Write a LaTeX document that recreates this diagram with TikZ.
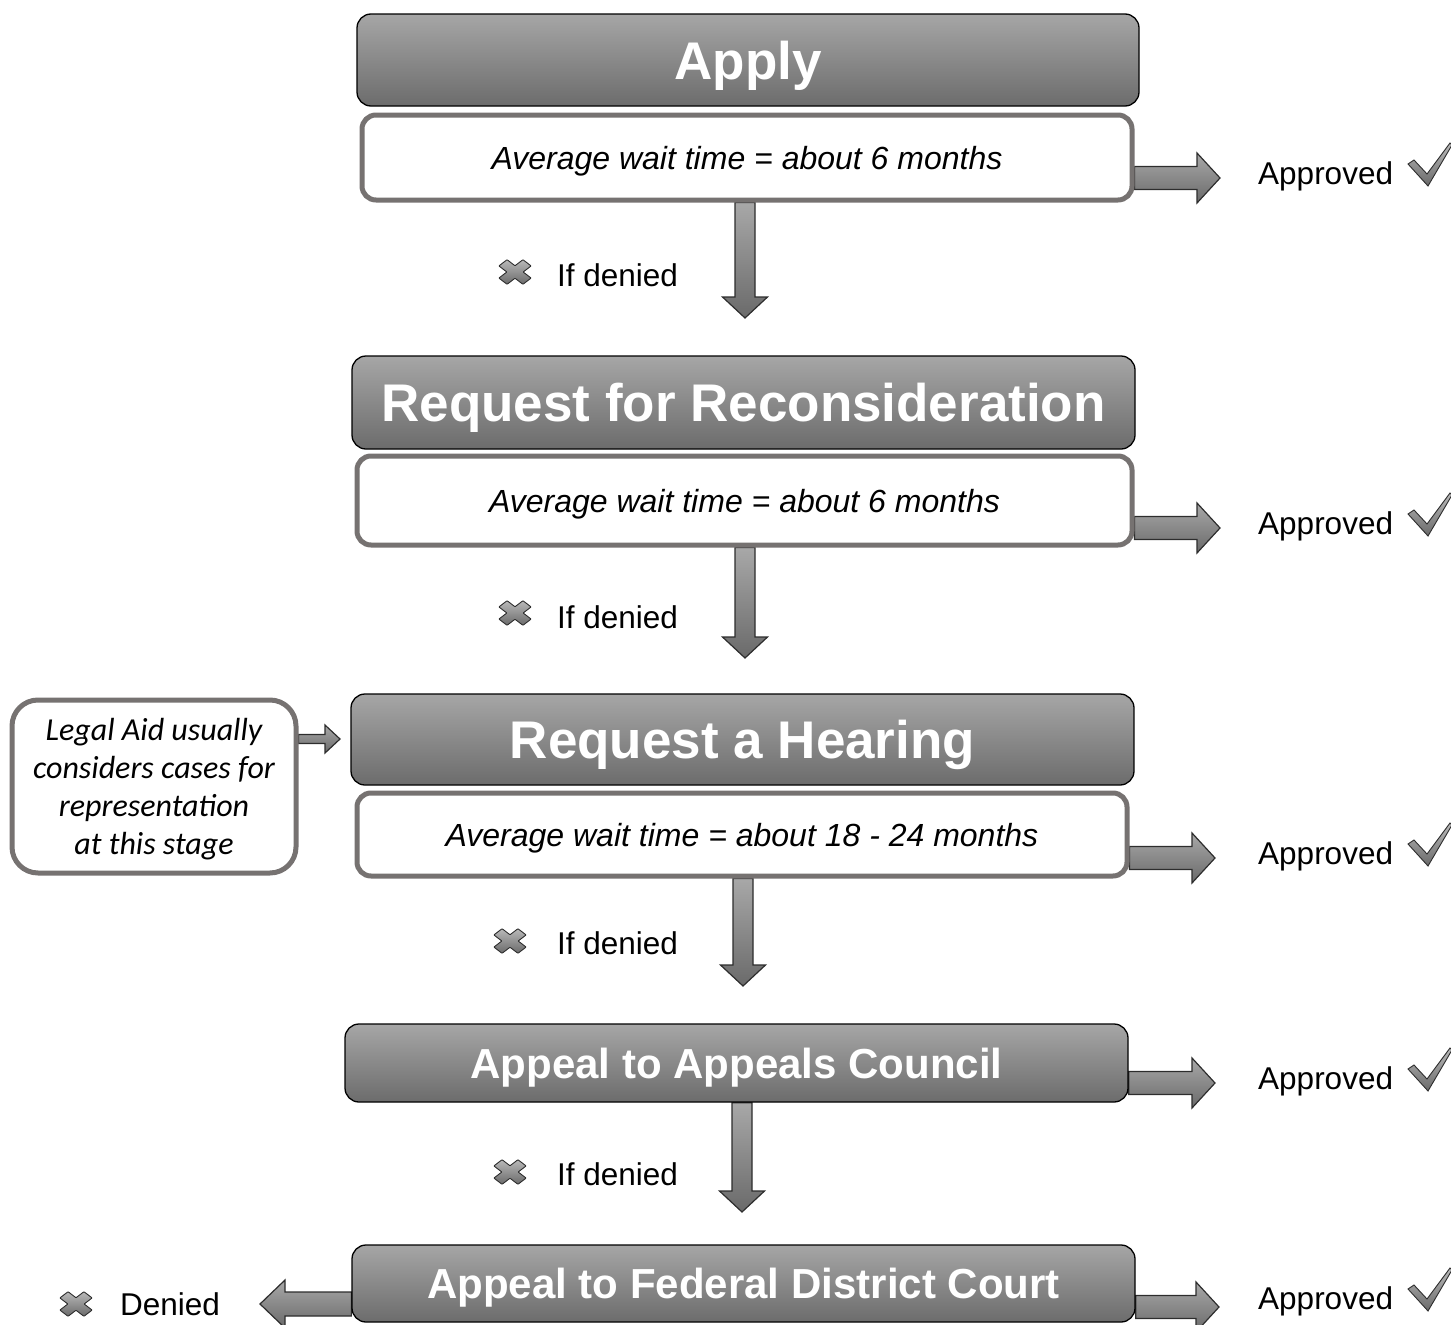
\documentclass[tikz,border=0pt]{standalone}
\usepackage{fontspec}
\setmainfont{Liberation Sans}
\newfontfamily\carlitofont{Carlito}
\usetikzlibrary{calc}
\pgfdeclarelayer{bg}
\pgfsetlayers{bg,main}
\definecolor{hdrtop}{RGB}{166,166,166}
\definecolor{hdrbot}{RGB}{108,108,108}
\definecolor{arrtop}{RGB}{168,168,168}
\definecolor{arrbot}{RGB}{106,106,106}
\definecolor{arrowline}{RGB}{45,45,45}
\definecolor{boxgray}{RGB}{118,114,113}
\tikzset{
  hdr/.style={draw=black, line width=1.3pt, rounded corners=14pt, top color=hdrtop, bottom color=hdrbot,
    text=white, inner sep=0pt, text depth=0pt},
  hdrbig/.style={hdr, font=\fontsize{53}{60}\selectfont\bfseries, text height=38pt},
  hdrsmall/.style={hdr, font=\fontsize{42}{50}\selectfont\bfseries, text height=30pt},
  waitbox/.style={draw=boxgray, line width=5pt, rounded corners=14pt, fill=white, inner sep=0pt,
    font=\fontsize{32}{36}\selectfont\itshape, text height=23pt, text depth=0pt},
  notebox/.style={draw=boxgray, line width=5pt, rounded corners=26pt, fill=white, inner sep=0pt,
    font=\carlitofont\fontsize{32}{38}\selectfont\itshape, align=center},
  lbl/.style={font=\fontsize{31.5}{36}\selectfont, anchor=west, inner sep=0pt, text height=22.6pt, text depth=0pt},
  blockarrow/.style={draw=arrowline, line width=1.2pt, top color=arrtop, bottom color=arrbot},
  iconstyle/.style={draw=arrowline, line width=0.9pt, top color=arrtop!80!white, bottom color=arrbot},
  xmark/.pic={\path[iconstyle, rounded corners=0.6pt, xscale=17, yscale=13, rotate=45]
    (0.34,0.34) -- (0.34,1) -- (-0.34,1) -- (-0.34,0.34) -- (-1,0.34) -- (-1,-0.34) -- (-0.34,-0.34)
    -- (-0.34,-1) -- (0.34,-1) -- (0.34,-0.34) -- (1,-0.34) -- (1,0.34) -- cycle;},
  checkmark/.pic={\path[iconstyle]
    (-19,-9) -- (-13,-13) -- (0,1) -- (23,-30) -- (25,-28) -- (1,13) -- cycle;}
}
% right arrow: start, end, shaft half, head half, head length
\newcommand\myRarrow[5]{\path[blockarrow] let \p1=(#1), \p2=(#2) in
  (\x1,\y1+#3pt) -- (\x2-#5pt,\y1+#3pt) -- (\x2-#5pt,\y1+#4pt) -- (\x2,\y1)
  -- (\x2-#5pt,\y1-#4pt) -- (\x2-#5pt,\y1-#3pt) -- (\x1,\y1-#3pt) -- cycle;}
\newcommand\myLarrow[5]{\path[blockarrow] let \p1=(#1), \p2=(#2) in
  (\x1,\y1+#3pt) -- (\x2+#5pt,\y1+#3pt) -- (\x2+#5pt,\y1+#4pt) -- (\x2,\y1)
  -- (\x2+#5pt,\y1-#4pt) -- (\x2+#5pt,\y1-#3pt) -- (\x1,\y1-#3pt) -- cycle;}
\newcommand\myDarrow[5]{\path[blockarrow] let \p1=(#1), \p2=(#2) in
  (\x1-#3pt,\y1) -- (\x1-#3pt,\y2+#5pt) -- (\x1-#4pt,\y2+#5pt) -- (\x1,\y2)
  -- (\x1+#4pt,\y2+#5pt) -- (\x1+#3pt,\y2+#5pt) -- (\x1+#3pt,\y1) -- cycle;}
\begin{document}
\begin{tikzpicture}[x=1pt,y=-1pt]
\useasboundingbox (0,0) rectangle (1451,1325);
\clip (0,0) rectangle (1451,1325);

% stage boxes
\node[hdrbig, minimum width=782pt, minimum height=92pt] (apply) at (748,60) {Apply};
\node[waitbox, minimum width=770pt, minimum height=85pt] (apsub) at (747,157.5) {Average wait time = about 6 months};
\node[hdrbig, minimum width=783pt, minimum height=93pt] (recon) at (743.5,402.5) {Request for Reconsideration};
\node[waitbox, minimum width=775pt, minimum height=89pt] (recsub) at (744.5,500.5) {Average wait time = about 6 months};
\node[hdrbig, minimum width=783pt, minimum height=91pt] (hear) at (742.5,739.5) {Request a Hearing};
\node[waitbox, minimum width=770pt, minimum height=83pt] (hearsub) at (742,834.5) {Average wait time = about 18 - 24 months};
\node[hdrsmall, minimum width=783pt, minimum height=78pt] (council) at (736.5,1063) {Appeal to Appeals Council};
\node[hdrsmall, minimum width=783pt, minimum height=77pt] (federal) at (743.5,1283.5) {Appeal to Federal District Court};
\node[notebox, minimum width=284pt, minimum height=173pt, text depth=1pt] (legal) at (154,786.5)
  {Legal Aid usually\\considers cases for\\representation\\at this stage};

% outcome labels
\node[lbl] (ok1) at (1258,173) {Approved};
\node[lbl] (ok2) at (1258,523) {Approved};
\node[lbl] (ok3) at (1258,853) {Approved};
\node[lbl] (ok4) at (1258,1078) {Approved};
\node[lbl] (ok5) at (1258,1298) {Approved};
\pic at (1427,173) {checkmark};
\pic at (1427,523) {checkmark};
\pic at (1427,853) {checkmark};
\pic at (1427,1078) {checkmark};
\pic at (1427,1298) {checkmark};

\node[lbl] (no1) at (557,275) {If denied};
\node[lbl] (no2) at (557,617) {If denied};
\node[lbl] (no3) at (557,943) {If denied};
\node[lbl] (no4) at (557,1174) {If denied};
\node[lbl] (denied) at (120,1304) {Denied};
\pic at (515,272) {xmark};
\pic at (515,613) {xmark};
\pic at (510,941) {xmark};
\pic at (510,1172) {xmark};
\pic at (76,1304) {xmark};

% connectors
\coordinate (r1e) at (1220,178);
\coordinate (r2e) at (1220,528);
\coordinate (r3e) at (1215,858);
\coordinate (r4e) at (1215,1083);
\coordinate (r5e) at (1219,1307);
\coordinate (l5e) at (260,1304);
\coordinate (lae) at (340,739);
\coordinate (d1e) at (745,318);
\coordinate (d2e) at (745,658);
\coordinate (d3e) at (743,986);
\coordinate (d4e) at (742,1212);
\begin{pgfonlayer}{bg}
\myRarrow{apsub.east |- r1e}{r1e}{11.5}{25}{23}
\myRarrow{recsub.east |- r2e}{r2e}{11.5}{25}{23}
\myRarrow{hearsub.east |- r3e}{r3e}{11.5}{25}{23}
\myRarrow{council.east |- r4e}{r4e}{11.5}{25}{23}
\myRarrow{federal.east |- r5e}{r5e}{11.5}{25}{23}
\myLarrow{federal.west |- l5e}{l5e}{12}{24}{25}
\myRarrow{legal.east |- lae}{lae}{4.5}{14}{15}
\myDarrow{d1e |- apsub.south}{d1e}{10}{22.5}{21}
\myDarrow{d2e |- recsub.south}{d2e}{10}{22.5}{21}
\myDarrow{d3e |- hearsub.south}{d3e}{10}{22.5}{21}
\myDarrow{d4e |- council.south}{d4e}{10}{22.5}{21}
\end{pgfonlayer}
\end{tikzpicture}
\end{document}
